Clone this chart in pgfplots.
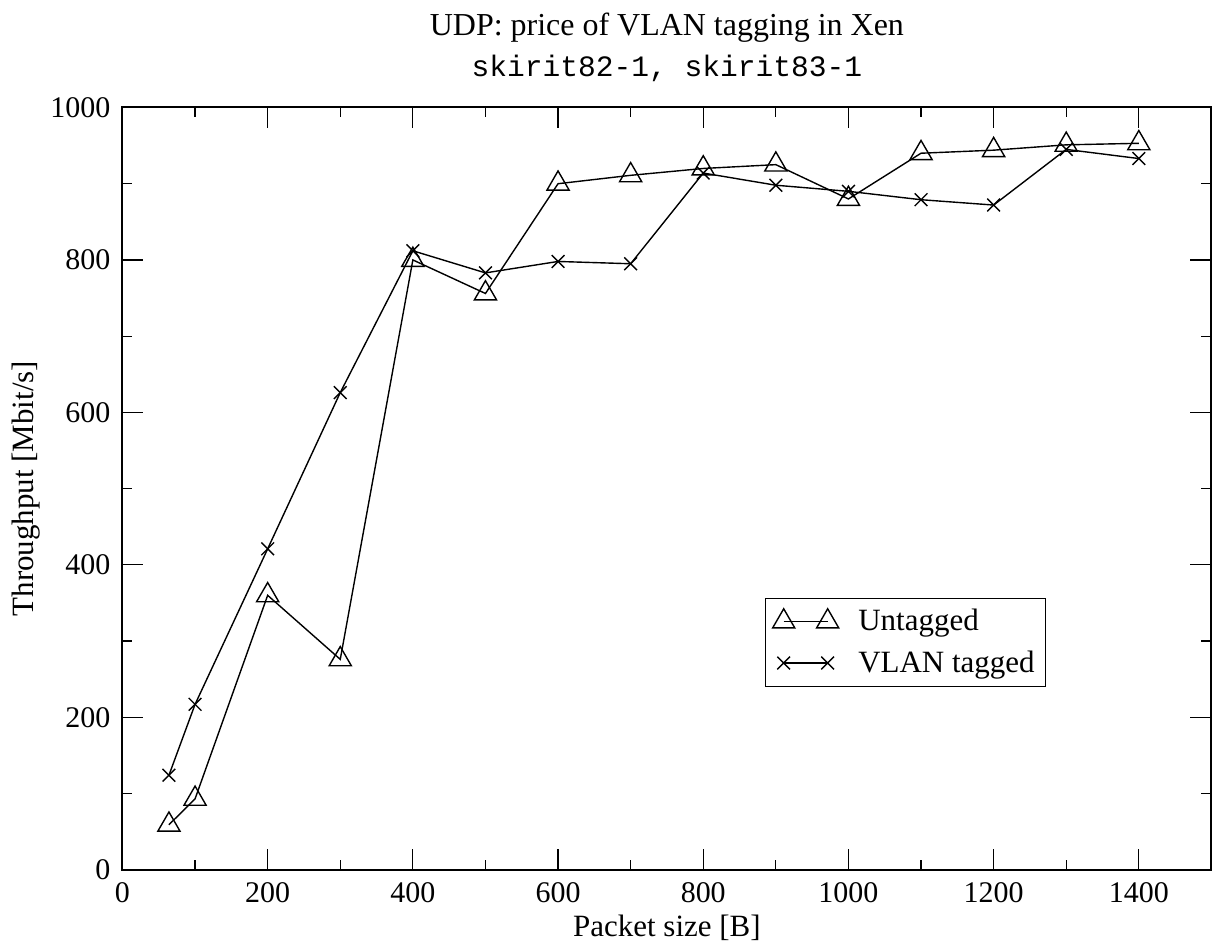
\documentclass[border=0pt]{standalone}
\usepackage{fontspec}
\setmainfont{Liberation Serif}
\setmonofont{Liberation Mono}
\usepackage{pgfplots}
\pgfplotsset{compat=1.18}
\usetikzlibrary{calc}
\begin{document}
\begin{tikzpicture}
\begin{axis}[
  name=ax,
  scale only axis,
  width=545pt, height=381.5pt,
  xmin=0, xmax=1500, ymin=0, ymax=1000,
  xtick={0,200,...,1400},
  ytick={0,200,...,1000},
  minor xtick={100,300,...,1500},
  minor ytick={100,300,...,900},
  tick align=inside,
  major tick length=10.5pt,
  minor tick length=5pt,
  axis line style={line width=1pt},
  every tick/.style={black, line width=0.6pt},
  tick label style={font=\fontsize{15}{17}\selectfont},
  xticklabel style={yshift=-3pt},
  yticklabel style={xshift=-2.5pt},
  /pgf/number format/assume math mode=true,
  /pgf/number format/1000 sep={},
  xlabel={Packet size [B]},
  ylabel={Throughput [Mbit/s]},
  label style={font=\fontsize{15.5}{17}\selectfont},
  xlabel style={yshift=1pt},
  ylabel style={yshift=-1.5pt},
  legend style={at={(0.590,0.357)}, anchor=north west, draw=black, line width=0.7pt,
    font=\fontsize{15.5}{17}\selectfont, inner sep=3.5pt, row sep=4.5pt, cells={anchor=west}},
  legend image code/.code={\path (0pt,0pt) (35pt,0pt); \draw[mark repeat=1,mark phase=1] plot coordinates {(0pt,0pt) (22pt,0pt)};},
  clip=false,
]
\addplot[black, line width=0.7pt, mark=triangle, mark size=6.4pt, mark options={solid, line width=0.7pt}] coordinates {
(64,59) (100,93) (200,360) (300,276) (400,800) (500,756) (600,900) (700,911) (800,920) (900,925) (1000,880) (1100,940) (1200,944) (1300,951) (1400,953)};
\addlegendentry{Untagged}
\addplot[black, line width=0.7pt, mark=x, mark size=4.5pt, mark options={solid, line width=0.7pt}] coordinates {
(64,124) (100,217) (200,421) (300,626) (400,812) (500,783) (600,798) (700,795) (800,914) (900,898) (1000,890) (1100,879) (1200,872) (1300,945) (1400,933)};
\addlegendentry{VLAN tagged}
\end{axis}
\node[font=\fontsize{16}{18}\selectfont, anchor=base] at ($(ax.north)+(0,35.8pt)$) {UDP: price of VLAN tagging in Xen};
\node[font=\ttfamily\fontsize{14.8}{17}\selectfont, anchor=base] at ($(ax.north)+(0,15.3pt)$) {skirit82-1, skirit83-1};
\pgfresetboundingbox
\path[use as bounding box] ($(ax.south west)+(-61.3pt,-35.2pt)$) rectangle ($(ax.north east)+(0.3pt,53.8pt)$);
\end{tikzpicture}
\end{document}
